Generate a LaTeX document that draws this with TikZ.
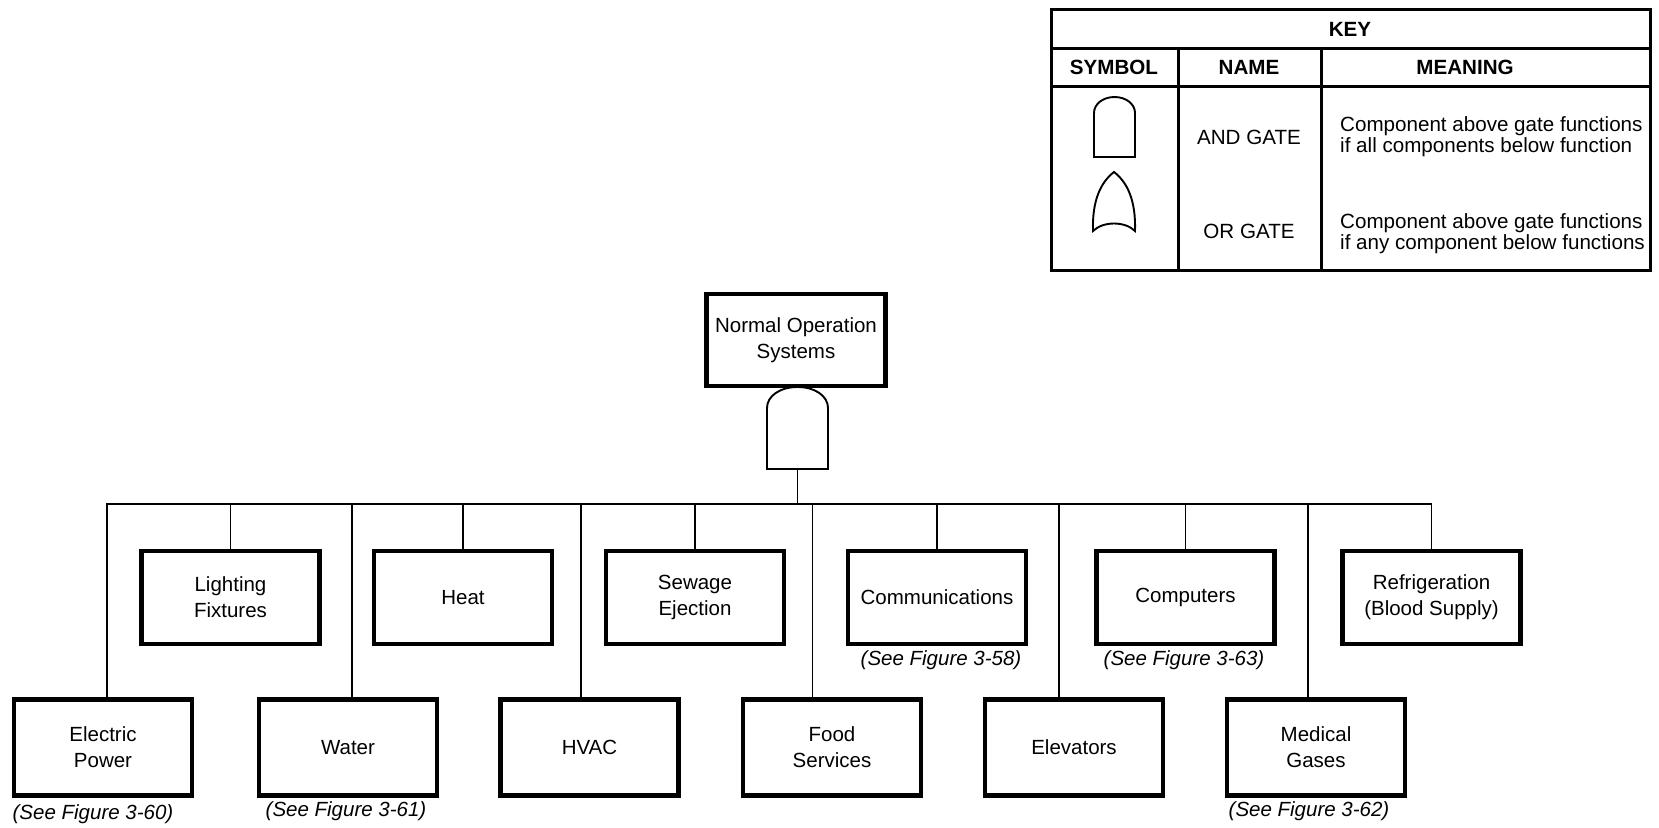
\documentclass[tikz,border=0pt]{standalone}
\usepackage{fontspec}
\setmainfont{Liberation Sans}
\newcommand{\fs}{\fontsize{20.5}{26}\selectfont}
\newcommand{\fk}{\fontsize{20.6}{21}\selectfont}
\begin{document}
\begin{tikzpicture}[x=1pt,y=-1pt,
  box/.style={draw, line width=4.2pt, minimum width=178pt, align=center, font=\fs, inner sep=0pt},
  toprow/.style={box, minimum height=93pt},
  botrow/.style={box, minimum height=96pt},
  conn/.style={line width=1.9pt},
  gatestyle/.style={line width=1.9pt},
  keyline/.style={line width=3pt},
  reflabel/.style={font=\fs\itshape, inner sep=0pt},
  keytxt/.style={font=\fk, inner sep=0pt},
  keyhead/.style={font=\fk\bfseries, inner sep=0pt}]
\useasboundingbox (0,0) rectangle (1659,827);

% ---------- KEY ----------
\draw[keyline] (1051,9) rectangle (1650,270);
\draw[keyline] (1051,48) -- (1650,48);
\draw[keyline] (1051,86) -- (1650,86);
\draw[keyline] (1178,48) -- (1178,270);
\draw[keyline] (1321,48) -- (1321,270);
\node[keyhead] (kkey) at (1350,29) {KEY};
\node[keyhead] (ksym) at (1114,67) {SYMBOL};
\node[keyhead] (kname) at (1249,67) {NAME};
\node[keyhead] (kmean) at (1465,67) {MEANING};
\draw[gatestyle] (1094,157) -- (1094,113) .. controls (1094,104) and (1103,97) .. (1114.5,97)
   .. controls (1126,97) and (1135,104) .. (1135,113) -- (1135,157) -- cycle;
\draw[gatestyle] (1114,172) .. controls (1127,182) and (1136,200) .. (1135,231)
   .. controls (1125,221) and (1103,221) .. (1093,231)
   .. controls (1092,200) and (1101,182) .. (1114,172) -- cycle;
\node[keytxt] (kand) at (1249,137) {AND GATE};
\node[keytxt] (kor) at (1249,231) {OR GATE};
\node[keytxt, align=left, anchor=west] (kandm) at (1340,137) {Component above gate functions\\if all components below function};
\node[keytxt, align=left, anchor=west] (korm) at (1340,234) {Component above gate functions\\if any component below functions};

% ---------- top node and gate ----------
\node[box, minimum width=179pt, minimum height=92pt] (top) at (796,340) {Normal Operation\\Systems};
\draw[gatestyle] (767,469) -- (767,408) .. controls (767,396) and (780,387) .. (797.5,387)
   .. controls (815,387) and (828,396) .. (828,408) -- (828,469) -- cycle;
\coordinate (gateB) at (797.5,469);
\coordinate (bus) at (797.5,504);

% ---------- top row ----------
\node[toprow] (light) at (230.5,597.5) {Lighting\\Fixtures};
\node[toprow] (heat) at (463,597.5) {Heat};
\node[toprow] (sewage) at (695,597.5) {Sewage\\Ejection};
\node[toprow] (comm) at (937,597.5) {Communications};
\node[toprow] (comp) at (1185.5,597.5) {Computers};
\node[toprow] (refr) at (1431.5,597.5) {Refrigeration\\(Blood Supply)};

% ---------- bottom row ----------
\node[botrow] (elec) at (103,747.5) {Electric\\Power};
\node[botrow] (water) at (348,747.5) {Water};
\node[botrow] (hvac) at (589.5,747.5) {HVAC};
\node[botrow] (food) at (832,747.5) {Food\\Services};
\node[botrow] (elev) at (1074,747.5) {Elevators};
\node[botrow] (med) at (1316,747.5) {Medical\\Gases};

% ---------- labels ----------
\node[reflabel] (r60) at (93,814) {(See Figure 3-60)};
\node[reflabel] (r61) at (346,811) {(See Figure 3-61)};
\node[reflabel] (r58) at (941,660) {(See Figure 3-58)};
\node[reflabel] (r63) at (1184,660) {(See Figure 3-63)};
\node[reflabel] (r62) at (1309,811) {(See Figure 3-62)};

% ---------- connectors ----------
\draw[conn] (gateB) -- (bus);
\coordinate (eTop) at ([xshift=4pt]elec.north);
\coordinate (busL) at (eTop |- bus);
\coordinate (busR) at (refr.north |- bus);
\draw[conn] (eTop) -- (busL) -- (busR) -- (refr.north);
\foreach \n in {light,heat,sewage,comm,comp} {
  \draw[conn] (\n.north) -- (\n.north |- bus);
}
\foreach \n/\s in {water/4,hvac/-8.5,food/-19.5,elev/-15,med/-8} {
  \draw[conn] ([xshift=\s pt]\n.north) -- ([xshift=\s pt]\n.north |- bus);
}
\end{tikzpicture}
\end{document}
